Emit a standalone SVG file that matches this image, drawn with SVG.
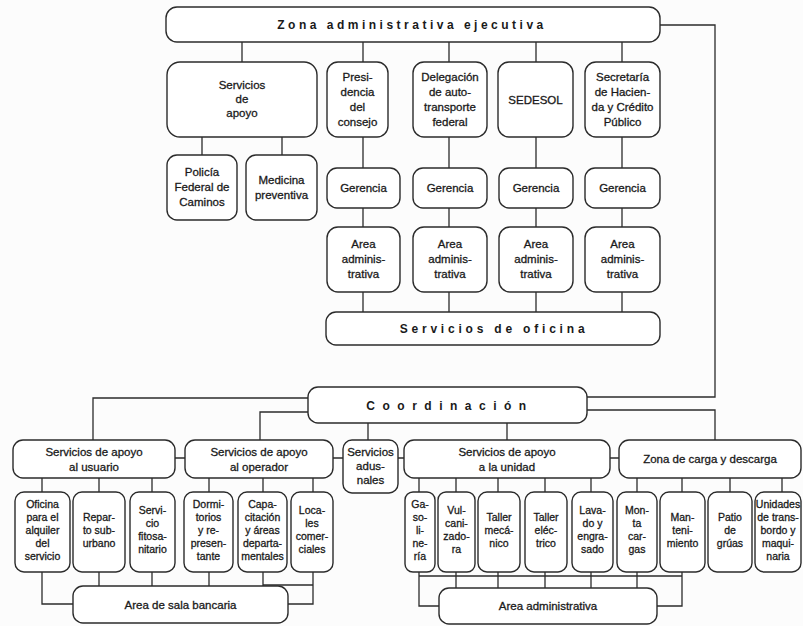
<svg xmlns="http://www.w3.org/2000/svg" width="803" height="626" viewBox="0 0 803 626">
  <style>
    .box { fill: #ffffff; stroke: #2b2b2b; stroke-width: 1.4; }
    .ln { fill: none; stroke: #2b2b2b; stroke-width: 1.3; }
    text { font-family: "Liberation Sans", Arial, sans-serif; fill: #1a1a1a; stroke: #1a1a1a; stroke-width: 0.3; text-anchor: middle; }
    .t { font-size: 11.5px; }
    .s { font-size: 10.5px; }
    .wide { font-size: 12px; font-weight: bold; stroke-width: 0; }
  </style>
  <rect x="0" y="0" width="803" height="626" fill="#fcfcfc"/>

  <!-- connectors -->
  <g id="connectors" class="ln">
    <!-- top tier -->
    <path d="M242 42V62M363 42V62M449 42V62M536 42V62M622 42V62"/>
    <path d="M202 137V155M282 137V155"/>
    <path d="M363 137V168M363 208V227M363 292V312"/>
    <path d="M449 137V168M449 208V227M449 292V312"/>
    <path d="M536 137V168M536 208V227M536 292V312"/>
    <path d="M622 137V168M622 208V227M622 292V312"/>
    <!-- link between the two zones -->
    <path d="M660 25H715V397H587"/>
    <path d="M587 410H715V440"/>
    <!-- coordination to second tier -->
    <path d="M308 398H93V440"/>
    <path d="M308 412H260V440"/>
    <path d="M368 423V440M507 423V440"/>
    <path d="M175 458H185M333 458H343M398 458H404M610 458H619"/>
    <!-- second tier to third tier -->
    <path d="M42 478V492M99 478V492M152 478V492"/>
    <path d="M209 478V492M263 478V492M313 478V492"/>
    <path d="M419 478V492M456 478V492M498 478V492M545 478V492M591 478V492"/>
    <path d="M637 478V492M682 478V492M730 478V492M782 478V492"/>
    <!-- third tier to bank area -->
    <path d="M42 572V604H73"/>
    <path d="M99 572V586M152 572V586M209 572V586M263 572V586"/>
    <path d="M313 572V604H288"/>
    <path d="M263 585H313"/>
    <!-- third tier to administrative area -->
    <path d="M419 572V606H439"/>
    <path d="M456 572V588M498 572V588M545 572V588M591 572V588M637 572V588"/>
    <path d="M682 572V606H657"/>
    <path d="M419 576H682"/>
  </g>

  <!-- executive zone -->
  <g id="zona-ejecutiva">
    <rect class="box" x="166" y="7" width="494" height="35" rx="11"/>
    <text class="wide" x="412" y="29" letter-spacing="3.5">Zona administrativa ejecutiva</text>
  </g>
  <g id="servicios-apoyo">
    <rect class="box" x="167" y="62" width="150" height="75" rx="13"/>
    <text class="t" x="242" y="89">Servicios</text>
    <text class="t" x="242" y="103">de</text>
    <text class="t" x="242" y="117">apoyo</text>
  </g>
  <g id="presidencia">
    <rect class="box" x="327" y="62" width="61" height="75" rx="11"/>
    <text class="t" x="357.5" y="81">Presi-</text>
    <text class="t" x="357.5" y="96">dencia</text>
    <text class="t" x="357.5" y="111">del</text>
    <text class="t" x="357.5" y="126">consejo</text>
  </g>
  <g id="delegacion">
    <rect class="box" x="413" y="62" width="74" height="75" rx="11"/>
    <text class="t" x="450" y="81">Delegación</text>
    <text class="t" x="450" y="96">de auto-</text>
    <text class="t" x="450" y="111">transporte</text>
    <text class="t" x="450" y="126">federal</text>
  </g>
  <g id="sedesol">
    <rect class="box" x="498" y="62" width="75" height="75" rx="11"/>
    <text class="t" x="535.5" y="104">SEDESOL</text>
  </g>
  <g id="secretaria">
    <rect class="box" x="585" y="62" width="75" height="75" rx="11"/>
    <text class="t" x="622.5" y="81">Secretaría</text>
    <text class="t" x="622.5" y="96">de Hacien-</text>
    <text class="t" x="622.5" y="111">da y Crédito</text>
    <text class="t" x="622.5" y="126">Público</text>
  </g>
  <g id="policia">
    <rect class="box" x="167" y="155" width="70" height="65" rx="10"/>
    <text class="t" x="202" y="176">Policía</text>
    <text class="t" x="202" y="191">Federal de</text>
    <text class="t" x="202" y="206">Caminos</text>
  </g>
  <g id="medicina">
    <rect class="box" x="246" y="155" width="71" height="65" rx="10"/>
    <text class="t" x="281.5" y="184">Medicina</text>
    <text class="t" x="281.5" y="199">preventiva</text>
  </g>
  <g id="gerencia-1">
    <rect class="box" x="327" y="168" width="73" height="40" rx="10"/>
    <text class="t" x="363.5" y="192">Gerencia</text>
  </g>
  <g id="gerencia-2">
    <rect class="box" x="413" y="168" width="74" height="40" rx="10"/>
    <text class="t" x="450" y="192">Gerencia</text>
  </g>
  <g id="gerencia-3">
    <rect class="box" x="499" y="168" width="74" height="40" rx="10"/>
    <text class="t" x="536" y="192">Gerencia</text>
  </g>
  <g id="gerencia-4">
    <rect class="box" x="585" y="168" width="75" height="40" rx="10"/>
    <text class="t" x="622.5" y="192">Gerencia</text>
  </g>
  <g id="area-1">
    <rect class="box" x="327" y="227" width="73" height="65" rx="11"/>
    <text class="t" x="363.5" y="248">Area</text>
    <text class="t" x="363.5" y="263">adminis-</text>
    <text class="t" x="363.5" y="278">trativa</text>
  </g>
  <g id="area-2">
    <rect class="box" x="413" y="227" width="74" height="65" rx="11"/>
    <text class="t" x="450" y="248">Area</text>
    <text class="t" x="450" y="263">adminis-</text>
    <text class="t" x="450" y="278">trativa</text>
  </g>
  <g id="area-3">
    <rect class="box" x="499" y="227" width="74" height="65" rx="11"/>
    <text class="t" x="536" y="248">Area</text>
    <text class="t" x="536" y="263">adminis-</text>
    <text class="t" x="536" y="278">trativa</text>
  </g>
  <g id="area-4">
    <rect class="box" x="585" y="227" width="75" height="65" rx="11"/>
    <text class="t" x="622.5" y="248">Area</text>
    <text class="t" x="622.5" y="263">adminis-</text>
    <text class="t" x="622.5" y="278">trativa</text>
  </g>
  <g id="servicios-oficina">
    <rect class="box" x="326" y="312" width="334" height="33" rx="10"/>
    <text class="wide" x="494" y="333" letter-spacing="3.8">Servicios de oficina</text>
  </g>

  <!-- coordination zone -->
  <g id="coordinacion">
    <rect class="box" x="308" y="387" width="279" height="36" rx="10"/>
    <text class="wide" x="450" y="410" letter-spacing="7.5">Coordinación</text>
  </g>
  <g id="apoyo-usuario">
    <rect class="box" x="13" y="440" width="162" height="38" rx="10"/>
    <text class="t" x="94" y="456">Servicios de apoyo</text>
    <text class="t" x="94" y="471">al usuario</text>
  </g>
  <g id="apoyo-operador">
    <rect class="box" x="185" y="440" width="148" height="38" rx="10"/>
    <text class="t" x="259" y="456">Servicios de apoyo</text>
    <text class="t" x="259" y="471">al operador</text>
  </g>
  <g id="aduanales">
    <rect class="box" x="343" y="440" width="55" height="53" rx="9"/>
    <text class="t" x="370.5" y="456">Servicios</text>
    <text class="t" x="370.5" y="470">adus-</text>
    <text class="t" x="370.5" y="484">nales</text>
  </g>
  <g id="apoyo-unidad">
    <rect class="box" x="404" y="440" width="206" height="38" rx="10"/>
    <text class="t" x="507" y="456">Servicios de apoyo</text>
    <text class="t" x="507" y="471">a la unidad</text>
  </g>
  <g id="carga-descarga">
    <rect class="box" x="619" y="440" width="182" height="38" rx="10"/>
    <text class="t" x="710" y="463">Zona de carga y descarga</text>
  </g>

  <!-- third tier, user and operator support -->
  <g id="oficina-alquiler">
    <rect class="box" x="15" y="492" width="55" height="80" rx="9"/>
    <text class="s" x="42.5" y="508">Oficina</text>
    <text class="s" x="42.5" y="521">para el</text>
    <text class="s" x="42.5" y="534">alquiler</text>
    <text class="s" x="42.5" y="547">del</text>
    <text class="s" x="42.5" y="560">servicio</text>
  </g>
  <g id="reparto">
    <rect class="box" x="73" y="492" width="52" height="80" rx="9"/>
    <text class="s" x="99" y="521">Repar-</text>
    <text class="s" x="99" y="534">to sub-</text>
    <text class="s" x="99" y="547">urbano</text>
  </g>
  <g id="fitosanitario">
    <rect class="box" x="130" y="492" width="45" height="80" rx="9"/>
    <text class="s" x="152.5" y="514">Servi-</text>
    <text class="s" x="152.5" y="527">cio</text>
    <text class="s" x="152.5" y="540">fitosa-</text>
    <text class="s" x="152.5" y="553">nitario</text>
  </g>
  <g id="dormitorios">
    <rect class="box" x="184" y="492" width="49" height="80" rx="9"/>
    <text class="s" x="208.5" y="508">Dormi-</text>
    <text class="s" x="208.5" y="521">torios</text>
    <text class="s" x="208.5" y="534">y re-</text>
    <text class="s" x="208.5" y="547">presen-</text>
    <text class="s" x="208.5" y="560">tante</text>
  </g>
  <g id="capacitacion">
    <rect class="box" x="238" y="492" width="49" height="80" rx="9"/>
    <text class="s" x="262.5" y="508">Capa-</text>
    <text class="s" x="262.5" y="521">citación</text>
    <text class="s" x="262.5" y="534">y áreas</text>
    <text class="s" x="262.5" y="547">departa-</text>
    <text class="s" x="262.5" y="560">mentales</text>
  </g>
  <g id="locales">
    <rect class="box" x="291" y="492" width="42" height="80" rx="9"/>
    <text class="s" x="312" y="514">Loca-</text>
    <text class="s" x="312" y="527">les</text>
    <text class="s" x="312" y="540">comer-</text>
    <text class="s" x="312" y="553">ciales</text>
  </g>

  <!-- third tier, unit support -->
  <g id="gasolineria">
    <rect class="box" x="405" y="492" width="30" height="80" rx="8"/>
    <text class="s" x="420" y="508">Ga-</text>
    <text class="s" x="420" y="521">so-</text>
    <text class="s" x="420" y="534">li-</text>
    <text class="s" x="420" y="547">ne-</text>
    <text class="s" x="420" y="560">ría</text>
  </g>
  <g id="vulcanizadora">
    <rect class="box" x="438" y="492" width="37" height="80" rx="8"/>
    <text class="s" x="456.5" y="514">Vul-</text>
    <text class="s" x="456.5" y="527">cani-</text>
    <text class="s" x="456.5" y="540">zado-</text>
    <text class="s" x="456.5" y="553">ra</text>
  </g>
  <g id="taller-mecanico">
    <rect class="box" x="478" y="492" width="42" height="80" rx="9"/>
    <text class="s" x="499" y="521">Taller</text>
    <text class="s" x="499" y="534">mecá-</text>
    <text class="s" x="499" y="547">nico</text>
  </g>
  <g id="taller-electrico">
    <rect class="box" x="525" y="492" width="42" height="80" rx="9"/>
    <text class="s" x="546" y="521">Taller</text>
    <text class="s" x="546" y="534">eléc-</text>
    <text class="s" x="546" y="547">trico</text>
  </g>
  <g id="lavado">
    <rect class="box" x="572" y="492" width="41" height="80" rx="9"/>
    <text class="s" x="592.5" y="514">Lava-</text>
    <text class="s" x="592.5" y="527">do y</text>
    <text class="s" x="592.5" y="540">engra-</text>
    <text class="s" x="592.5" y="553">sado</text>
  </g>

  <!-- third tier, loading zone -->
  <g id="montacargas">
    <rect class="box" x="617" y="492" width="40" height="80" rx="9"/>
    <text class="s" x="637" y="514">Mon-</text>
    <text class="s" x="637" y="527">ta</text>
    <text class="s" x="637" y="540">car-</text>
    <text class="s" x="637" y="553">gas</text>
  </g>
  <g id="mantenimiento">
    <rect class="box" x="660" y="492" width="45" height="80" rx="9"/>
    <text class="s" x="682.5" y="521">Man-</text>
    <text class="s" x="682.5" y="534">teni-</text>
    <text class="s" x="682.5" y="547">miento</text>
  </g>
  <g id="patio-gruas">
    <rect class="box" x="708" y="492" width="44" height="80" rx="9"/>
    <text class="s" x="730" y="521">Patio</text>
    <text class="s" x="730" y="534">de</text>
    <text class="s" x="730" y="547">grúas</text>
  </g>
  <g id="unidades-transbordo">
    <rect class="box" x="755" y="492" width="46" height="80" rx="9"/>
    <text class="s" x="778" y="508">Unidades</text>
    <text class="s" x="778" y="521">de trans-</text>
    <text class="s" x="778" y="534">bordo y</text>
    <text class="s" x="778" y="547">maqui-</text>
    <text class="s" x="778" y="560">naria</text>
  </g>

  <!-- bottom tier -->
  <g id="sala-bancaria">
    <rect class="box" x="73" y="586" width="215" height="37" rx="10"/>
    <text class="t" x="180.5" y="609">Area de sala bancaria</text>
  </g>
  <g id="area-administrativa">
    <rect class="box" x="439" y="588" width="218" height="36" rx="10"/>
    <text class="t" x="548" y="610">Area administrativa</text>
  </g>
</svg>
